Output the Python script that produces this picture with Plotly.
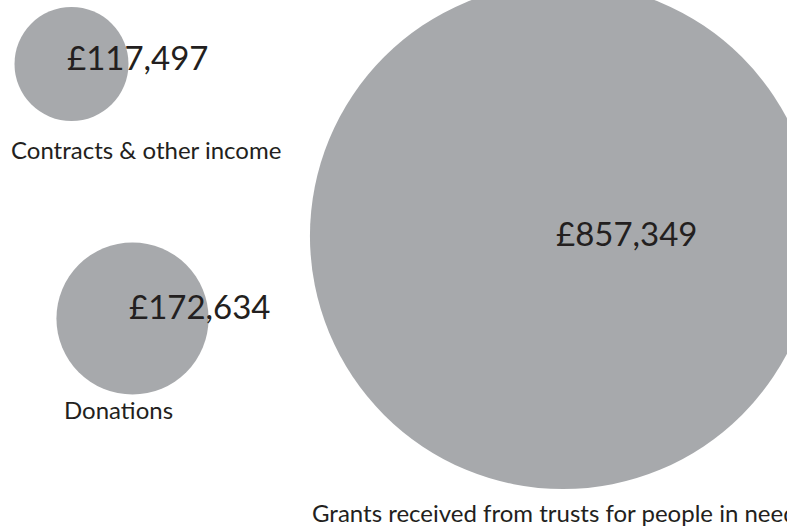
import numpy as np
import plotly.graph_objects as go

categories = ["Contracts & other income", "Donations", "Grants received from trusts for people in need"]
values = [117497, 172634, 857349]
value_labels = ["£117,497", "£172,634", "£857,349"]

# bubble placement (packed layout, in pixel-like layout units)
bubble_x = [71.5, 132.5, 563]
bubble_y = [64, 318.5, 236]

# label placement
value_label_x = [137, 199, 626]
value_label_y = [57, 306, 233]
cat_label_x = [9, 62, 310]
cat_label_y = [149, 409, 512]

W, H = 787, 528
FONT = "Lato"
GREY = "#a7a9ac"
TEXT = "#231f20"

# bubble diameter scales with value^0.75
scaled = np.power(np.array(values, dtype=float), 0.75)
sizeref = scaled.min() / 114.0

fig = go.Figure()
fig.add_trace(go.Scatter(
    x=bubble_x, y=bubble_y, mode="markers",
    marker=dict(size=scaled, sizemode="diameter", sizeref=sizeref,
                color=GREY, line=dict(width=0), opacity=1),
    cliponaxis=False, hoverinfo="skip", showlegend=False,
))

for lx, ly, t in zip(value_label_x, value_label_y, value_labels):
    fig.add_annotation(x=lx, y=ly, text=t, showarrow=False, xanchor="center", yanchor="middle",
                       font=dict(family=FONT, size=33, color=TEXT))
for lx, ly, t in zip(cat_label_x, cat_label_y, categories):
    fig.add_annotation(x=lx, y=ly, text=t, showarrow=False, xanchor="left", yanchor="middle",
                       font=dict(family=FONT, size=24, color=TEXT))

fig.update_layout(
    width=W, height=H, margin=dict(l=0, r=0, t=0, b=0),
    paper_bgcolor="white", plot_bgcolor="white",
    xaxis=dict(range=[0, W], visible=False, fixedrange=True),
    yaxis=dict(range=[H, 0], visible=False, fixedrange=True),
    showlegend=False,
)
fig.write_html("out.html", config=dict(displayModeBar=False),
               post_script="document.body.style.margin='0';document.body.style.overflow='hidden';")
